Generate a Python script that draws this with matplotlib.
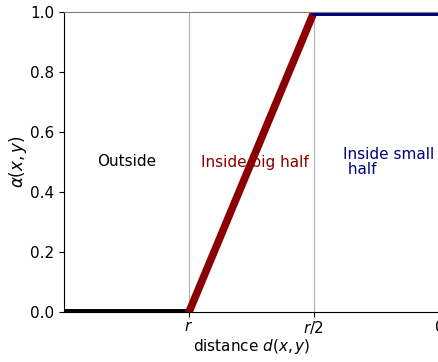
import matplotlib
matplotlib.use("Agg")
import matplotlib.pyplot as plt
import numpy as np

# distance in units of r (axis inverted: large distance on the left)
outside_d = [1.5, 1.0]
outside_a = [0.0, 0.0]
big_d = [1.0, 0.5]
big_a = [0.0, 1.0]
small_d = [0.5, 0.0]
small_a = [1.0, 1.0]
tick_pos = [1.0, 0.5, 0.0]
tick_labels = ["$r$", "$r/2$", "$0$"]

fig = plt.figure(figsize=(4.38, 3.62), dpi=100)
ax = fig.add_axes([64/438, 50/362, 375/438, 300/362])

ax.plot(outside_d, outside_a, color="black", lw=5, solid_capstyle="round")
ax.plot(big_d, big_a, color="#8b0000", lw=5.5, solid_capstyle="round")
ax.plot(small_d, small_a, color="#000080", lw=5, solid_capstyle="round")

ax.set_xlim(1.5, 0.0)
ax.set_ylim(0, 1)
ax.set_xticks(tick_pos)
ax.set_xticklabels(tick_labels)
ax.grid(axis="x", color="#b0b0b0", lw=0.8)
ax.set_axisbelow(True)
ax.tick_params(labelsize=11)
ax.tick_params(axis="x", pad=1.5)
ax.set_yticks([0, 0.2, 0.4, 0.6, 0.8, 1.0])
ax.spines["top"].set_color("#808080")

ax.text(1.25, 0.5, "Outside", color="black", ha="center", va="center", fontsize=11)
ax.text(0.735, 0.5, "Inside big half", color="#8b0000", ha="center", va="center", fontsize=11)
ax.text(0.385, 0.5, "Inside small\n half", color="#000080", ha="left", va="center", fontsize=11, linespacing=1.0)

ax.set_xlabel("distance $d(x,y)$", fontsize=11, labelpad=1)
ax.set_ylabel(r"$\alpha(x,y)$", fontsize=12, labelpad=1)

fig.savefig("out.png", dpi=100)
